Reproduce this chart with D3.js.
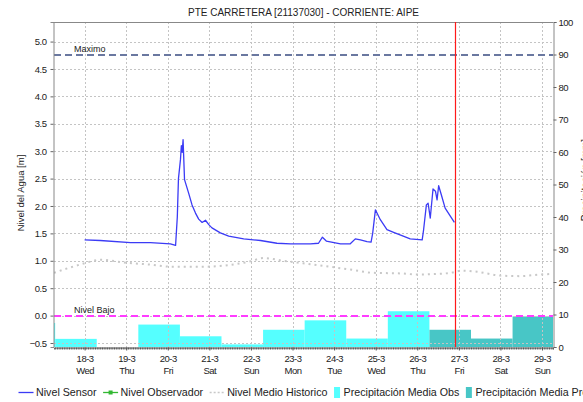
<!DOCTYPE html>
<html>
<head>
<meta charset="utf-8">
<script src="https://cdn.jsdelivr.net/npm/d3@7"></script>
<style>
  body { margin: 0; background: #fff; }
  svg { display: block; font-family: "Liberation Sans", Arial, sans-serif; }
</style>
</head>
<body>
<div id="viz"></div>
<script>
// Data
var parse = d3.timeParse("%Y-%m-%d %H:%M");

// Nivel Sensor [m]
var sensorLevel = [
  ["2015-03-18 00:00", 1.38], ["2015-03-18 09:00", 1.37], ["2015-03-19 02:30", 1.33],
  ["2015-03-19 14:00", 1.33], ["2015-03-20 01:30", 1.31], ["2015-03-20 04:30", 1.28],
  ["2015-03-20 05:30", 1.80], ["2015-03-20 06:10", 2.50], ["2015-03-20 07:20", 2.85],
  ["2015-03-20 07:50", 3.10], ["2015-03-20 08:20", 2.98], ["2015-03-20 08:50", 3.21],
  ["2015-03-20 09:40", 2.48], ["2015-03-20 12:00", 2.24], ["2015-03-20 14:00", 2.02],
  ["2015-03-20 16:00", 1.87], ["2015-03-20 17:50", 1.76], ["2015-03-20 19:50", 1.70],
  ["2015-03-20 21:45", 1.74], ["2015-03-20 23:40", 1.66], ["2015-03-21 01:30", 1.60],
  ["2015-03-21 06:20", 1.51], ["2015-03-21 11:10", 1.45], ["2015-03-21 19:50", 1.40],
  ["2015-03-22 05:30", 1.37], ["2015-03-22 15:00", 1.32], ["2015-03-22 22:50", 1.31],
  ["2015-03-23 10:20", 1.31], ["2015-03-23 15:00", 1.32], ["2015-03-23 17:15", 1.43],
  ["2015-03-23 19:30", 1.36], ["2015-03-24 03:40", 1.31], ["2015-03-24 09:20", 1.31],
  ["2015-03-24 12:15", 1.40], ["2015-03-24 15:10", 1.38], ["2015-03-24 19:00", 1.35],
  ["2015-03-24 21:20", 1.34], ["2015-03-24 22:15", 1.50], ["2015-03-24 23:50", 1.93],
  ["2015-03-25 02:40", 1.75], ["2015-03-25 06:30", 1.57], ["2015-03-25 10:20", 1.52],
  ["2015-03-25 15:10", 1.46], ["2015-03-25 19:55", 1.40], ["2015-03-26 02:50", 1.38],
  ["2015-03-26 03:40", 1.57], ["2015-03-26 05:15", 2.02], ["2015-03-26 06:15", 2.05],
  ["2015-03-26 07:30", 1.78], ["2015-03-26 09:05", 2.31], ["2015-03-26 10:30", 2.27],
  ["2015-03-26 11:25", 2.11], ["2015-03-26 12:20", 2.37], ["2015-03-26 13:55", 2.20],
  ["2015-03-26 16:05", 1.96], ["2015-03-26 19:10", 1.81], ["2015-03-26 21:25", 1.70]
];

// Nivel Medio Historico [m]
var historicLevel = [
  ["2015-03-17 06:20", 0.78], ["2015-03-17 23:30", 0.95], ["2015-03-18 09:10", 1.02],
  ["2015-03-18 22:30", 0.97], ["2015-03-19 14:00", 0.93], ["2015-03-20 03:20", 0.89],
  ["2015-03-20 18:55", 0.89], ["2015-03-21 10:30", 0.92], ["2015-03-21 23:45", 0.99],
  ["2015-03-22 07:15", 1.05], ["2015-03-22 18:45", 1.00], ["2015-03-23 04:35", 0.96],
  ["2015-03-23 21:50", 0.89], ["2015-03-24 09:20", 0.84], ["2015-03-24 22:35", 0.78],
  ["2015-03-25 14:10", 0.77], ["2015-03-26 00:00", 0.75], ["2015-03-26 11:35", 0.76],
  ["2015-03-26 19:10", 0.78], ["2015-03-27 01:55", 0.82], ["2015-03-27 10:30", 0.80],
  ["2015-03-28 00:00", 0.73], ["2015-03-28 11:30", 0.72], ["2015-03-28 23:00", 0.75],
  ["2015-03-29 06:20", 0.76]
];

// Precipitacion media diaria [mm] (day runs 07:00 -> 07:00)
var precipObs = [
  ["2015-03-16 07:00", 7.4], ["2015-03-17 07:00", 2.5], ["2015-03-18 07:00", 0],
  ["2015-03-19 07:00", 6.9], ["2015-03-20 07:00", 3.3], ["2015-03-21 07:00", 0.8],
  ["2015-03-22 07:00", 5.3], ["2015-03-23 07:00", 8.2], ["2015-03-24 07:00", 2.6],
  ["2015-03-25 07:00", 11.0]
];
var precipPro = [
  ["2015-03-26 07:00", 5.3], ["2015-03-27 07:00", 2.6], ["2015-03-28 07:00", 9.4]
];

var thresholds = [
  {name: "Maximo", value: 4.75, color: "#6a78a0"},
  {name: "Nivel Bajo", value: 0.0, color: "#ff3cff"}
];
var nowTime = "2015-03-26 21:35";
var timeRange = ["2015-03-17 06:20", "2015-03-29 06:20"];
var levelTicks = [-0.5, 0, 0.5, 1, 1.5, 2, 2.5, 3, 3.5, 4, 4.5, 5];
var precipTicks = [0, 10, 20, 30, 40, 50, 60, 70, 80, 90, 100];

var legendItems = [
  {label: "Nivel Sensor", type: "line", color: "#3b3bf5"},
  {label: "Nivel Observador", type: "marker", color: "#33b833"},
  {label: "Nivel Medio Historico", type: "dots", color: "#c8c8c8"},
  {label: "Precipitación Media Obs", type: "box", color: "#55ffff"},
  {label: "Precipitación Media Pronosticada", type: "box", color: "#48c6c6"}
];

//Layout (note: "top" is reserved on window, so use plot* names)
var width = 583, height = 402;
var plotLeft = 54, plotRight = 553, plotTop = 22, plotBottom = 347;
var tickFont = 9.5, tickSpacing = -0.5;

var svg = d3.select("#viz").append("svg").attr("width", width).attr("height", height);

var x = d3.scaleTime().domain(timeRange.map(parse)).range([plotLeft, plotRight]);
var yL = d3.scaleLinear().domain([-0.573, 5.357]).range([plotBottom, plotTop]);
var yR = d3.scaleLinear().domain([0, 100]).range([plotBottom, plotTop]);

svg.append("clipPath").attr("id", "plot").append("rect")
    .attr("x", plotLeft).attr("y", plotTop).attr("width", plotRight - plotLeft).attr("height", plotBottom - plotTop);

//Bars
var barGroup = svg.append("g").attr("clip-path", "url(#plot)");
function drawBars(data, color) {
    barGroup.selectAll(null).data(data).enter().append("rect")
        .attr("x", function(d) { return x(parse(d[0])); })
        .attr("width", function(d) { var s = parse(d[0]); return x(d3.timeDay.offset(s, 1)) - x(s); })
        .attr("y", function(d) { return yR(d[1]); })
        .attr("height", function(d) { return plotBottom - yR(d[1]); })
        .attr("fill", color);
}
drawBars(precipObs, "#55ffff");
drawBars(precipPro, "#48c6c6");

//Grid
var grid = svg.append("g").attr("stroke", "#c4c4c4").attr("stroke-dasharray", "2,2").attr("stroke-width", 1);
grid.selectAll(null).data(levelTicks).enter().append("line")
    .attr("x1", plotLeft).attr("x2", plotRight)
    .attr("y1", function(d) { return Math.round(yL(d)) + 0.5; })
    .attr("y2", function(d) { return Math.round(yL(d)) + 0.5; });
grid.selectAll(null).data(x.ticks(d3.timeDay.every(1))).enter().append("line")
    .attr("y1", plotTop).attr("y2", plotBottom)
    .attr("x1", function(d) { return Math.round(x(d)) + 0.5; })
    .attr("x2", function(d) { return Math.round(x(d)) + 0.5; });

//Historic mean level
var plotG = svg.append("g").attr("clip-path", "url(#plot)");
plotG.append("path").datum(historicLevel)
    .attr("d", d3.line().curve(d3.curveMonotoneX)
        .x(function(d) { return x(parse(d[0])); })
        .y(function(d) { return yL(d[1]); }))
    .attr("fill", "none").attr("stroke", "#c8c8c8").attr("stroke-width", 2)
    .attr("stroke-dasharray", "2,4");

//Threshold lines
thresholds.forEach(function(t) {
    var yy = Math.round(yL(t.value));
    plotG.append("line").attr("x1", plotLeft).attr("x2", plotRight).attr("y1", yy).attr("y2", yy)
        .attr("stroke", t.color).attr("stroke-width", 2).attr("stroke-dasharray", "7,4");
    svg.append("text").attr("x", 74).attr("y", yy - 3)
        .attr("font-size", 9).attr("fill", "#222").text(t.name);
});

//Sensor level
plotG.append("path").datum(sensorLevel)
    .attr("d", d3.line().x(function(d) { return x(parse(d[0])); }).y(function(d) { return yL(d[1]); }))
    .attr("fill", "none").attr("stroke", "#3b3bf5").attr("stroke-width", 1.3)
    .attr("stroke-linejoin", "round");

//Axes
svg.append("line").attr("x1", plotLeft).attr("x2", plotRight).attr("y1", plotTop + 0.5).attr("y2", plotTop + 0.5)
    .attr("stroke", "#888");

var axL = svg.append("g").attr("transform", "translate(" + (plotLeft - 0.5) + ",0)")
    .call(d3.axisLeft(yL).tickValues(levelTicks).tickSize(3).tickPadding(4).tickFormat(d3.format(".1f")));
var axR = svg.append("g").attr("transform", "translate(" + (plotRight + 0.5) + ",0)")
    .call(d3.axisRight(yR).tickValues(precipTicks).tickSize(3).tickPadding(2));
[axL, axR].forEach(function(a) {
    a.select(".domain").attr("stroke", "#888");
    a.selectAll(".tick line").attr("stroke", "#666");
    a.selectAll("text").attr("font-size", tickFont).attr("letter-spacing", tickSpacing)
        .attr("fill", "#222").attr("font-family", null);
});

//Hourly minor ticks along the bottom
var axH = svg.append("g").attr("transform", "translate(0," + (plotBottom + 0.5) + ")")
    .call(d3.axisBottom(x).ticks(d3.timeHour.every(1)).tickSize(2).tickFormat(""));
axH.select(".domain").attr("stroke", "#666");
axH.selectAll(".tick line").attr("stroke", "#555");

var axB = svg.append("g").attr("transform", "translate(0," + (plotBottom + 0.5) + ")")
    .call(d3.axisBottom(x).ticks(d3.timeDay.every(1)).tickSize(3).tickFormat(""));
axB.select(".domain").remove();
axB.selectAll(".tick line").attr("stroke", "#555");
var fmtDay = d3.timeFormat("%-d-%-m"), fmtWk = d3.timeFormat("%a");
axB.selectAll(".tick").each(function(d) {
    var t = d3.select(this).append("text").attr("fill", "#222").attr("font-size", tickFont)
        .attr("letter-spacing", tickSpacing).attr("text-anchor", "middle").attr("font-family", null);
    t.append("tspan").attr("x", 0).attr("y", 14.5).text(fmtDay(d));
    t.append("tspan").attr("x", 0).attr("y", 26.5).text(fmtWk(d));
});

//Now line (drawn on top)
var xn = Math.round(x(parse(nowTime))) + 0.5;
svg.append("line").attr("x1", xn).attr("x2", xn).attr("y1", plotTop).attr("y2", plotBottom)
    .attr("stroke", "#ff1a1a").attr("stroke-width", 1.2);

//Titles
svg.append("text").attr("x", (plotLeft + plotRight) / 2).attr("y", 16).attr("text-anchor", "middle")
    .attr("font-size", 10).attr("fill", "#222")
    .text("PTE CARRETERA [21137030] - CORRIENTE: AIPE");
svg.append("text").attr("transform", "translate(24,193) rotate(-90)").attr("text-anchor", "middle")
    .attr("font-size", 9.5).attr("fill", "#222").text("Nivel del Agua [m]");
svg.append("text").attr("transform", "translate(589,180) rotate(-90)").attr("text-anchor", "middle")
    .attr("font-size", 10).attr("fill", "#222").text("Precipitación [mm]");

//Legend
var lx = 18.5, ly = 392;
var legend = svg.append("g");
legendItems.forEach(function(it) {
    var g = legend.append("g");
    if (it.type === "box") {
        g.append("rect").attr("x", lx).attr("y", ly - 5).attr("width", 6).attr("height", 11).attr("fill", it.color);
        lx += 9.5;
    } else {
        var l = g.append("line").attr("x1", lx).attr("x2", lx + 15).attr("y1", ly + 0.5).attr("y2", ly + 0.5)
            .attr("stroke", it.color).attr("stroke-width", it.type === "dots" ? 1.5 : 1.3);
        if (it.type === "dots") l.attr("stroke-dasharray", "2,2");
        if (it.type === "marker") {
            g.append("rect").attr("x", lx + 5.5).attr("y", ly - 1.5).attr("width", 4).attr("height", 4).attr("fill", it.color);
        }
        lx += 17.5;
    }
    var t = g.append("text").attr("x", lx).attr("y", ly + 4).attr("font-size", 10.7)
        .attr("fill", "#222").text(it.label);
    lx += t.node().getComputedTextLength() + 6.5;
});
</script>
</body>
</html>
